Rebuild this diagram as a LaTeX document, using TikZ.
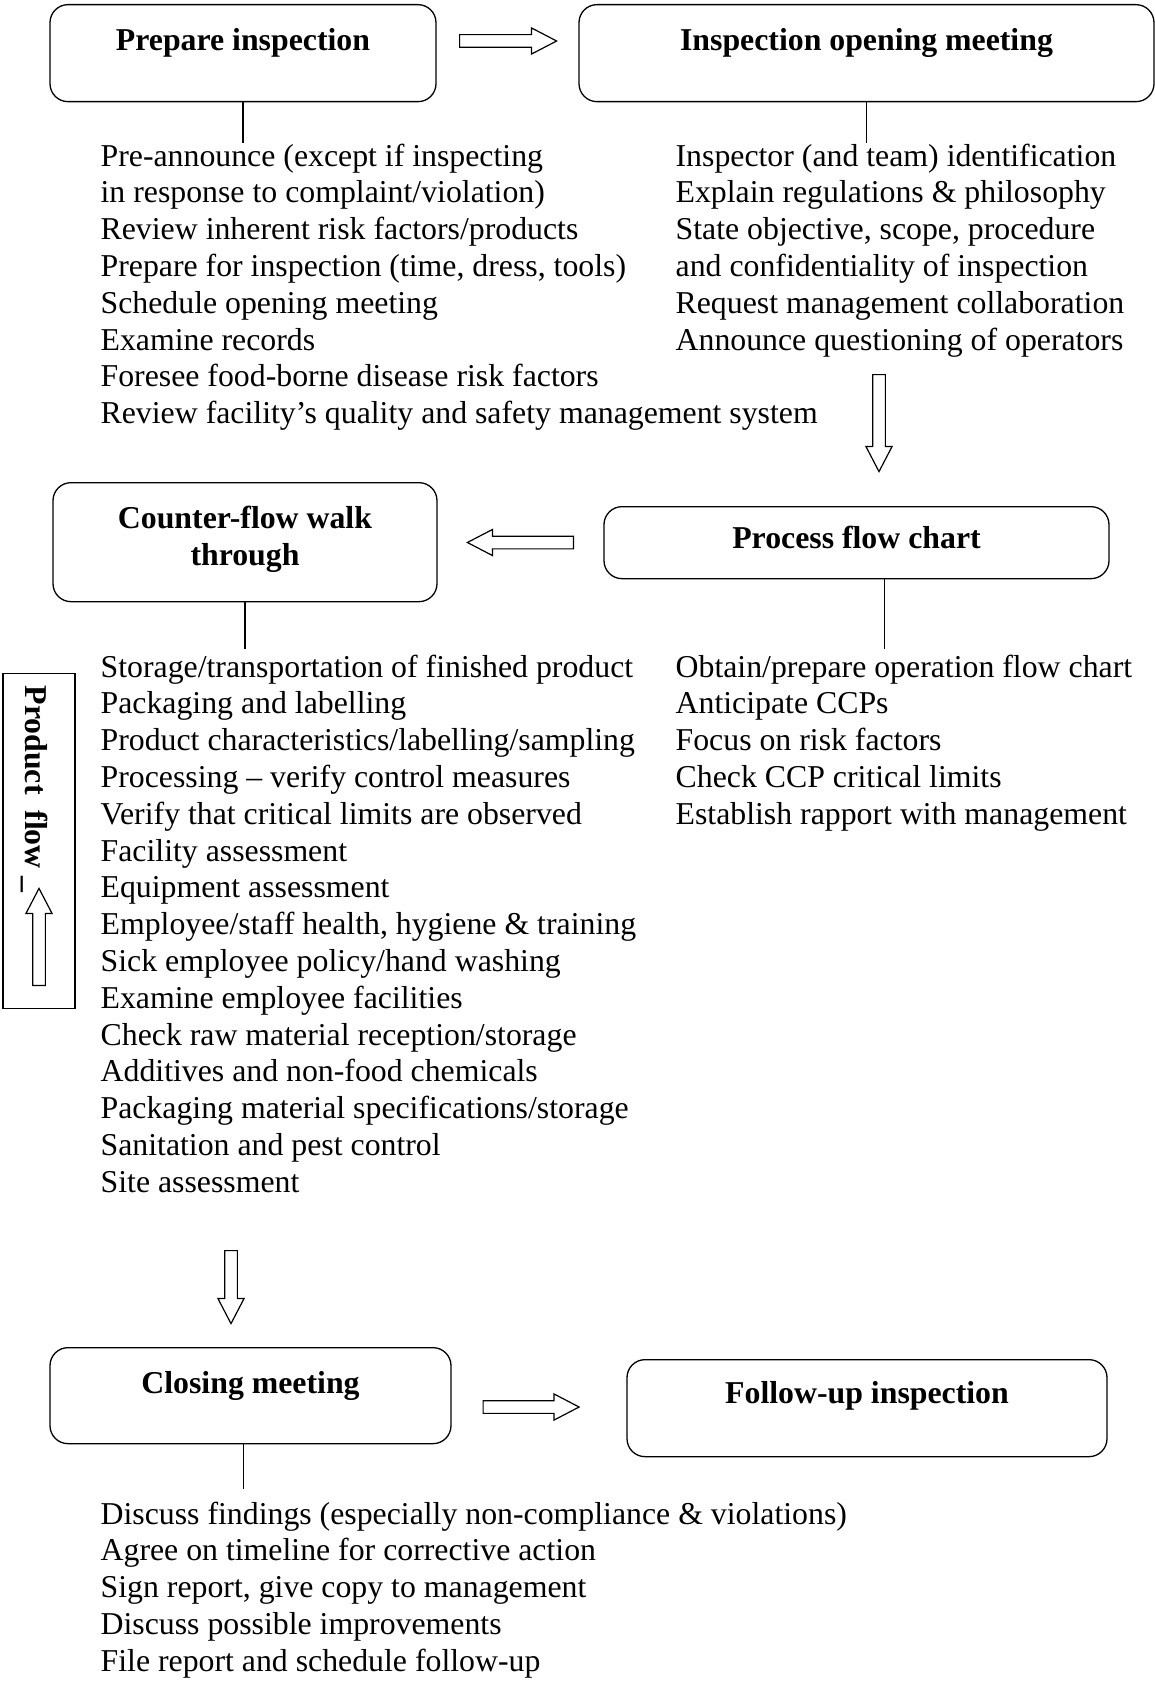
\documentclass[tikz,border=0pt]{standalone}
\usepackage{fontspec}
\setmainfont{Liberation Serif}
\usepackage{tikz}
\usetikzlibrary{arrows.meta,positioning,calc,shapes.arrows}
\newcommand{\bodysize}{\fontsize{31.8pt}{36.8pt}\selectfont}
\newcommand{\liststrut}{\rule{0pt}{25.8pt}}
\tikzset{
  every picture/.append style={line width=1.3pt},
  every node/.append style={font=\bodysize},
}
\tikzset{
  box/.style={draw, rounded corners=18pt, align=center, inner xsep=6pt, inner ysep=0pt, anchor=north, font=\bodysize\bfseries},
  list/.style={align=left, anchor=north west, inner xsep=0pt, inner ysep=0pt, execute at begin node=\liststrut},
  hollow/.style={single arrow, draw, line width=1.2pt, inner xsep=0pt, inner ysep=5.75pt, anchor=tail,
    minimum width=25pt, single arrow head extend=6.75pt, single arrow tip angle=55}
}

\begin{document}
\begin{tikzpicture}[x=1pt, y=-1pt]
\useasboundingbox (0,0) rectangle (1155,1683);

% --- Preparation and opening meeting (top row) ---
\node[box, minimum width=386pt, text height=46pt, text depth=51pt] (prep) at (243,4) {Prepare inspection};
\node[box, minimum width=575pt, text height=46pt, text depth=51pt] (open) at (866.5,4) {Inspection opening meeting};
\node[hollow, minimum height=97pt] (a1) at (459,41) {};

\node[list] (preplist) at (100,143) {
  Pre-announce (except if inspecting\\
  in response to complaint/violation)\\
  Review inherent risk factors/products\\
  Prepare for inspection (time, dress, tools)\\
  Schedule opening meeting\\
  Examine records\\
  Foresee food-borne disease risk factors\\
  Review facility’s quality and safety management system
};
\node[list] (openlist) at (675,143) {
  Inspector (and team) identification\\
  Explain regulations \& philosophy\\
  State objective, scope, procedure\\
  and confidentiality of inspection\\
  Request management collaboration\\
  Announce questioning of operators
};

\draw (prep.south) -- (prep.south |- preplist.north);
\draw (open.south) -- (open.south |- openlist.north);

% --- Process flow chart and walk through (middle row) ---
\node[hollow, minimum height=97pt, rotate=-90] (a2) at (879,374) {};
\node[box, minimum width=505pt, text height=42pt, text depth=30pt] (proc) at (856.5,506) {Process flow chart};
\node[box, minimum width=384pt, text height=83pt, text depth=36pt] (walk) at (245,482) {Counter-flow walk\\through};
\node[hollow, minimum height=106pt, rotate=180] (a3) at (574,542.5) {};

\node[list, inner ysep=5pt] (walklist) at (100,649) {
  Storage/transportation of finished product\\
  Packaging and labelling\\
  Product characteristics/labelling/sampling\\
  Processing -- verify control measures\\
  Verify that critical limits are observed\\
  Facility assessment\\
  Equipment assessment\\
  Employee/staff health, hygiene \& training\\
  Sick employee policy/hand washing\\
  Examine employee facilities\\
  Check raw material reception/storage\\
  Additives and non-food chemicals\\
  Packaging material specifications/storage\\
  Sanitation and pest control\\
  Site assessment
};
\node[list, inner ysep=5pt] (proclist) at (675,649) {
  Obtain/prepare operation flow chart\\
  Anticipate CCPs\\
  Focus on risk factors\\
  Check CCP critical limits\\
  Establish rapport with management
};

\draw (walk.south) -- (walk.south |- walklist.north);
\draw ([xshift=28pt]proc.south) -- ([xshift=28pt]proc.south |- proclist.north);

% --- Product flow indicator ---
\node[draw, minimum width=72pt, minimum height=335pt, inner sep=0pt] (flow) at (39,840.8) {};
\node[rotate=-90, anchor=base west, inner sep=0pt, font=\bodysize\bfseries] (flowtext) at (25,685) {Product\ \ flow \_};
\node[hollow, minimum height=97pt, rotate=90] (a6) at (39,986) {};

% --- Closing meeting and follow-up (bottom row) ---
\node[hollow, minimum height=73pt, rotate=-90] (a4) at (231,1250) {};
\node[box, minimum width=401pt, text height=46pt, text depth=50pt] (close) at (250.5,1347) {Closing meeting};
\node[box, minimum width=480pt, text height=44pt, text depth=53pt] (follow) at (867,1359) {Follow-up inspection};
\node[hollow, minimum height=96pt] (a5) at (482.5,1407) {};

\node[list, inner ysep=12pt] (closelist) at (100,1489) {
  Discuss findings (especially non-compliance \& violations)\\
  Agree on timeline for corrective action\\
  Sign report, give copy to management\\
  Discuss possible improvements\\
  File report and schedule follow-up
};

\draw ([xshift=-7pt]close.south) -- ([xshift=-7pt]close.south |- closelist.north);

\end{tikzpicture}
\end{document}
